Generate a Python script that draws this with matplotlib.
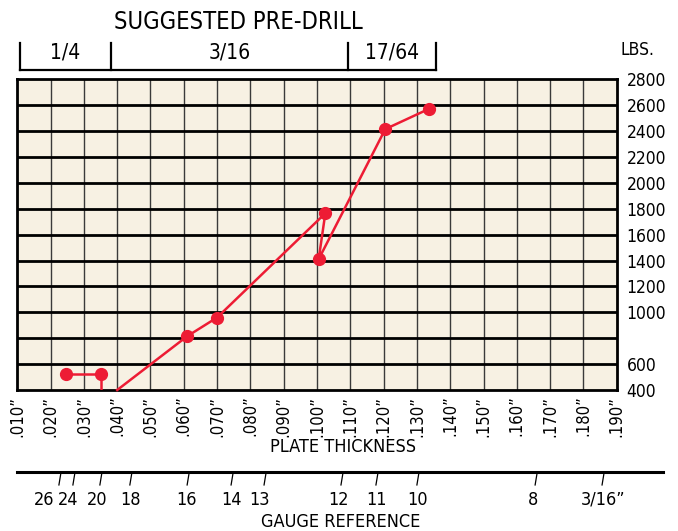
import matplotlib
matplotlib.use("Agg")
import matplotlib.pyplot as plt

plt.rcParams['font.family'] = ['DejaVu Sans']
plt.rcParams['font.stretch'] = 'condensed'

# plate thickness (in) vs pull-out load (lbs)
thick = [0.040, 0.061, 0.070, 0.1025, 0.1005, 0.1205, 0.1335]
lbs = [400, 815, 960, 1765, 1410, 2415, 2570]
marked = [False, True, True, True, True, True, True]

thin_thick = [0.0245, 0.035]
thin_lbs = [520, 520]

x_ticks = [0.010 + 0.010 * i for i in range(19)]
x_labels = ['.%03d\u201d' % round(t * 1000) for t in x_ticks]
y_ticks = list(range(400, 2801, 200))
y_labels = ['400', '600', '', '1000', '1200', '1400', '1600', '1800',
            '2000', '2200', '2400', '2600', '2800']

drill_edges = [0.0108, 0.0381, 0.1093, 0.1357]
drill_labels = ['1/4', '3/16', '17/64']

gauge_ticks = [0.0228, 0.0270, 0.0351, 0.0441, 0.0613, 0.0745, 0.0844,
               0.1075, 0.1180, 0.1303, 0.1658, 0.1859]
gauge_label_x = [0.0180, 0.0252, 0.0339, 0.0441, 0.0607, 0.0742, 0.0826,
                 0.1066, 0.1180, 0.1303, 0.1649, 0.1859]
gauge_labels = ['26', '24', '20', '18', '16', '14', '13', '12', '11', '10',
                '8', '3/16\u201d']

red = '#ED1C34'
bg = '#F7F1E3'

fig = plt.figure(figsize=(6.78, 5.31), dpi=100)
ax = fig.add_axes([0.0255, 0.2655, 0.8841, 0.5852])
ax.set_facecolor(bg)
ax.set_xlim(0.010, 0.190)
ax.set_ylim(400, 2800)

for t in x_ticks[1:-1]:
    ax.axvline(t, color='#3a3a3a', lw=1.0, zorder=1)
for t in y_ticks[1:-1]:
    ax.axhline(t, color='black', lw=2.0, zorder=1)
for s in ax.spines.values():
    s.set_linewidth(2.0)

ax.set_xticks(x_ticks)
ax.set_xticklabels(x_labels, rotation=90, fontsize=12)
ax.set_yticks(y_ticks)
ax.set_yticklabels(y_labels, fontsize=12.5)
ax.yaxis.tick_right()
ax.tick_params(axis='both', length=0)
ax.tick_params(axis='x', pad=4)
ax.tick_params(axis='y', pad=7)

# red curve
ax.plot(thick, lbs, color=red, lw=1.8, zorder=3, clip_on=False)
mx = [x for x, m in zip(thick, marked) if m]
my = [y for y, m in zip(lbs, marked) if m]
ax.plot(mx, my, 'o', color=red, ms=8.5, zorder=4, clip_on=False)
ax.plot(thin_thick, thin_lbs, '-o', color=red, lw=1.8, ms=8.5, zorder=4)
ax.plot([thin_thick[1], thin_thick[1]], [thin_lbs[1], 400], color=red,
        lw=1.8, zorder=3)

# suggested pre-drill bracket
tr = ax.get_xaxis_transform()
ax.plot([drill_edges[0], drill_edges[-1]], [1.030, 1.030], color='black',
        lw=1.6, transform=tr, clip_on=False)
for e in drill_edges:
    ax.plot([e, e], [1.030, 1.118], color='black', lw=1.6, transform=tr,
            clip_on=False)
for a, b, lab in zip(drill_edges[:-1], drill_edges[1:], drill_labels):
    ax.text((a + b) / 2, 1.085, lab, transform=tr, ha='center', va='center',
            fontsize=15)

fig.text(0.351, 0.958, 'SUGGESTED PRE-DRILL', ha='center', va='center',
         fontsize=17)
fig.text(0.940, 0.906, 'LBS.', ha='center', va='center', fontsize=12.5)
fig.text(0.506, 0.158, 'PLATE THICKNESS', ha='center', va='center',
         fontsize=13)

# gauge reference scale
gax = fig.add_axes([0.0255, 0.0772, 0.8841, 0.0339])
gax.set_xlim(0.010, 0.190)
gax.set_ylim(0, 1)
gax.axis('off')
gax.plot([0.010, 0.2039], [1, 1], color='black', lw=2.2, clip_on=False)
for t in gauge_ticks:
    gax.plot([t + 0.0003, t - 0.0003], [0.95, 0.28], color='black', lw=0.9,
             clip_on=False)
for x, lab in zip(gauge_label_x, gauge_labels):
    gax.text(x, -0.55, lab, ha='center', va='center', fontsize=13)
fig.text(0.503, 0.017, 'GAUGE REFERENCE', ha='center', va='center',
         fontsize=13)

fig.savefig('out.png', dpi=100)
